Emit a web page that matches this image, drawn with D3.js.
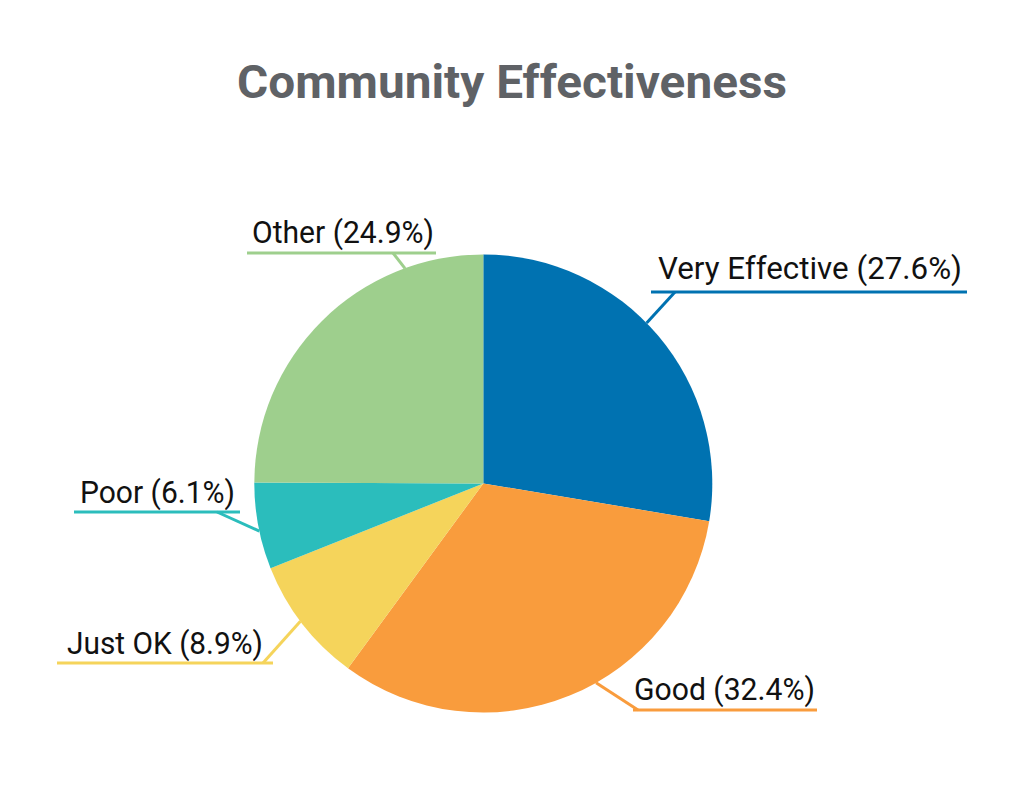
<!DOCTYPE html>
<html>
<head>
<meta charset="utf-8">
<script src="https://cdn.jsdelivr.net/npm/d3@7"></script>
<style>
  html, body { margin: 0; padding: 0; background: #fff; }
  svg { display: block; }
</style>
</head>
<body>
<svg id="chart" width="1025" height="800"></svg>
<script>
// ---- Data ----
const categories = ["Very Effective", "Good", "Just OK", "Poor", "Other"];
const values = [27.6, 32.4, 8.9, 6.1, 24.9];
const colors = ["#0072b1", "#f99c3d", "#f5d45b", "#2bbdbc", "#9ecf8d"];
const title = "Community Effectiveness";

// ---- Layout (label placement, not data) ----
const labelLayout = [
  { tx: 658, ty: 279, tw: 304, ux0: 651, ux1: 967, uy: 292, ex: 675, tickDeg: 45.5 },
  { tx: 634, ty: 700, tw: 181, ux0: 633, ux1: 817, uy: 710, ex: 638, tickDeg: 150.5 },
  { tx: 67,  ty: 654, tw: 196, ux0: 57,  ux1: 273, uy: 663, ex: 263, tickDeg: 233 },
  { tx: 80,  ty: 503, tw: 155, ux0: 74,  ux1: 240, uy: 512, ex: 217, tickDeg: 258 },
  { tx: 252, ty: 243, tw: 182, ux0: 247, ux1: 436, uy: 253, ex: 393, tickDeg: 340 }
];

const svg = d3.select("#chart");
const cx = 483.3, cy = 483.5, r = 229;

svg.append("text")
  .attr("x", 512).attr("y", 98)
  .attr("text-anchor", "middle")
  .attr("font-family", "Roboto, sans-serif")
  .attr("font-weight", "bold")
  .attr("font-size", 47)
  .attr("fill", "#5f6266")
  .attr("textLength", 550)
  .attr("lengthAdjust", "spacingAndGlyphs")
  .text(title);

const pie = d3.pie().value(d => d).sort(null);
const arcs = pie(values);
const arc = d3.arc().innerRadius(0).outerRadius(r);

const g = svg.append("g").attr("transform", `translate(${cx},${cy})`);
g.selectAll("path.slice")
  .data(arcs)
  .join("path")
  .attr("class", "slice")
  .attr("d", arc)
  .attr("fill", (d, i) => colors[i]);

// labels
const lg = svg.append("g");
arcs.forEach((d, i) => {
  const L = labelLayout[i];
  const a = L.tickDeg * Math.PI / 180;
  const px = cx + r * Math.sin(a), py = cy - r * Math.cos(a);
  lg.append("line")
    .attr("x1", px).attr("y1", py)
    .attr("x2", L.ex).attr("y2", L.uy)
    .attr("stroke", colors[i]).attr("stroke-width", 3);
  lg.append("line")
    .attr("x1", L.ux0).attr("y1", L.uy)
    .attr("x2", L.ux1).attr("y2", L.uy)
    .attr("stroke", colors[i]).attr("stroke-width", 3);
  lg.append("text")
    .attr("x", L.tx).attr("y", L.ty)
    .attr("font-family", "Roboto, sans-serif")
    .attr("font-size", 32)
    .attr("fill", "#111")
    .attr("textLength", L.tw)
    .attr("lengthAdjust", "spacingAndGlyphs")
    .text(`${categories[i]} (${values[i].toFixed(1)}%)`);
});
</script>
</body>
</html>
